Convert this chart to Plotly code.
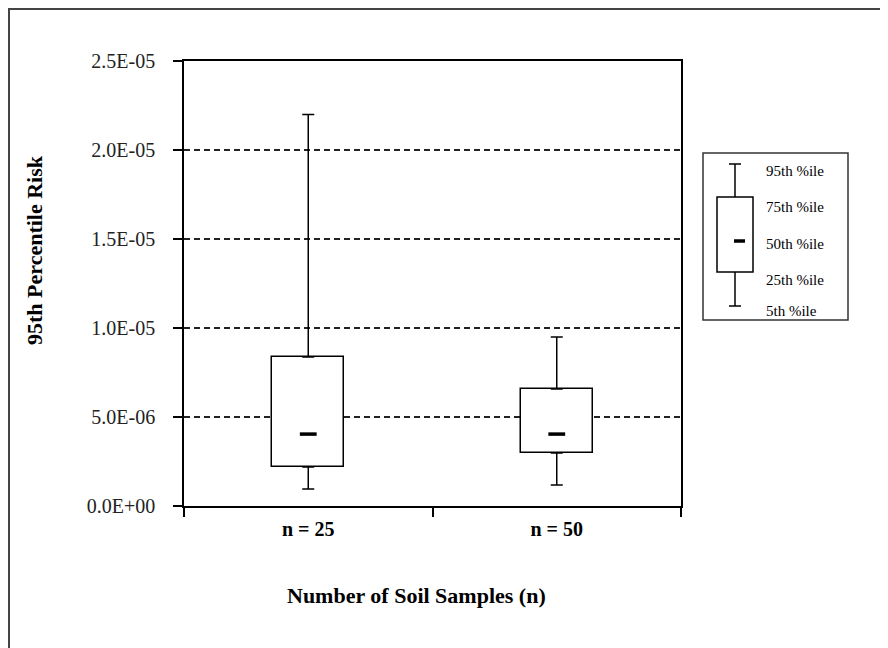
import plotly.graph_objects as go

# ---- data ----
categories = ["n = 25", "n = 50"]
p5 = [0.96e-6, 1.18e-6]
p25 = [2.19e-6, 2.98e-6]
p50 = [4.04e-6, 4.04e-6]
p75 = [8.37e-6, 6.57e-6]
p95 = [2.2e-5, 9.5e-6]
y_tickvals = [0, 5e-6, 1e-5, 1.5e-5, 2e-5, 2.5e-5]
y_ticktext = ["0.0E+00", "5.0E-06", "1.0E-05", "1.5E-05", "2.0E-05", "2.5E-05"]
legend_labels = ["95th %ile", "75th %ile", "50th %ile", "25th %ile", "5th %ile"]

W, H = 888, 648
OFF = 8  # page body margin
L, R, T, B = 184, 681, 61, 506  # plot area in window pixels
FONT = "Liberation Serif, Times New Roman, serif"


def px(x):
    return (x - L) / (R - L)


def py(y):
    return (B - y) / (B - T)


fig = go.Figure()

# boxes (25th-75th)
fig.add_trace(go.Bar(
    x=categories, base=p25, y=[a - b for a, b in zip(p75, p25)],
    width=0.29, marker=dict(color="white", line=dict(color="black", width=1.5)),
    showlegend=False, hoverinfo="skip"))

# upper whiskers
fig.add_trace(go.Scatter(
    x=categories, y=p75, mode="markers",
    marker=dict(size=1, color="rgba(0,0,0,0)"),
    error_y=dict(type="data", symmetric=False,
                 array=[a - b for a, b in zip(p95, p75)], arrayminus=[0, 0],
                 color="black", thickness=1.5, width=6),
    showlegend=False, hoverinfo="skip"))

# lower whiskers
fig.add_trace(go.Scatter(
    x=categories, y=p25, mode="markers",
    marker=dict(size=1, color="rgba(0,0,0,0)"),
    error_y=dict(type="data", symmetric=False,
                 array=[0, 0], arrayminus=[a - b for a, b in zip(p25, p5)],
                 color="black", thickness=1.5, width=6),
    showlegend=False, hoverinfo="skip"))

# medians
fig.add_trace(go.Scatter(
    x=categories, y=p50, mode="markers",
    marker=dict(symbol="line-ew", size=12, line=dict(color="black", width=3.5)),
    showlegend=False, hoverinfo="skip"))

# ---- decorations ----
shapes = []
# outer border
shapes.append(dict(type="rect", xref="paper", yref="paper",
                   x0=px(9), x1=px(W + 40), y0=py(H + 40), y1=py(9),
                   line=dict(color="#444", width=2), layer="below"))
# legend box
shapes.append(dict(type="rect", xref="paper", yref="paper",
                   x0=px(703), x1=px(848), y0=py(320), y1=py(153),
                   line=dict(color="#333", width=1.5), fillcolor="white"))
# legend glyph
shapes.append(dict(type="rect", xref="paper", yref="paper",
                   x0=px(717), x1=px(753), y0=py(272), y1=py(197),
                   line=dict(color="black", width=1.5)))
for ya, yb in [(164, 197), (272, 306)]:
    shapes.append(dict(type="line", xref="paper", yref="paper",
                       x0=px(735), x1=px(735), y0=py(ya), y1=py(yb),
                       line=dict(color="black", width=1.5)))
for yc in [164, 306]:
    shapes.append(dict(type="line", xref="paper", yref="paper",
                       x0=px(729), x1=px(741), y0=py(yc), y1=py(yc),
                       line=dict(color="black", width=1.5)))
shapes.append(dict(type="line", xref="paper", yref="paper",
                   x0=px(734), x1=px(745), y0=py(241), y1=py(241),
                   line=dict(color="black", width=3.5)))

annotations = []
for lbl, yy in zip(legend_labels, [171, 207, 244, 280, 311]):
    annotations.append(dict(text=lbl, xref="paper", yref="paper", x=px(764), y=py(yy),
                            xanchor="left", yanchor="middle", showarrow=False,
                            font=dict(family=FONT, size=15, color="black")))
annotations.append(dict(text="<b>95th Percentile Risk</b>", xref="paper", yref="paper",
                        x=px(35), y=py(250), textangle=-90, showarrow=False,
                        xanchor="center", yanchor="middle",
                        font=dict(family=FONT, size=22, color="black")))
annotations.append(dict(text="<b>Number of Soil Samples (n)</b>", xref="paper", yref="paper",
                        x=px(416), y=py(595), showarrow=False,
                        xanchor="center", yanchor="middle",
                        font=dict(family=FONT, size=22, color="black")))

fig.update_layout(
    width=W, height=H,
    margin=dict(l=L - OFF, r=W - (R - OFF), t=T - OFF, b=H - (B - OFF)),
    paper_bgcolor="white", plot_bgcolor="white",
    shapes=shapes, annotations=annotations,
    xaxis=dict(type="category", categoryorder="array", categoryarray=categories,
               range=[-0.5, 1.5], tickson="boundaries", ticks="outside", ticklen=9,
               tickcolor="black", tickwidth=1.5,
               showline=True, linecolor="black", linewidth=1.5, mirror=True,
               showgrid=False, zeroline=False,
               tickvals=categories, ticktext=["<b>" + c + "</b>" for c in categories],
               ticklabelstandoff=4,
               tickfont=dict(family=FONT, size=20, color="black")),
    yaxis=dict(range=[0, 2.5e-5], tickvals=y_tickvals, ticktext=y_ticktext,
               ticks="outside", ticklen=9, tickcolor="black", tickwidth=1.5,
               showline=True, linecolor="black", linewidth=1.5, mirror=True,
               showgrid=True, gridcolor="#222", gridwidth=1.5, griddash="6px,4px",
               zeroline=False, ticklabelstandoff=14,
               tickfont=dict(family=FONT, size=20, color="#222")),
    bargap=0,
)

fig.write_html("out.html")
